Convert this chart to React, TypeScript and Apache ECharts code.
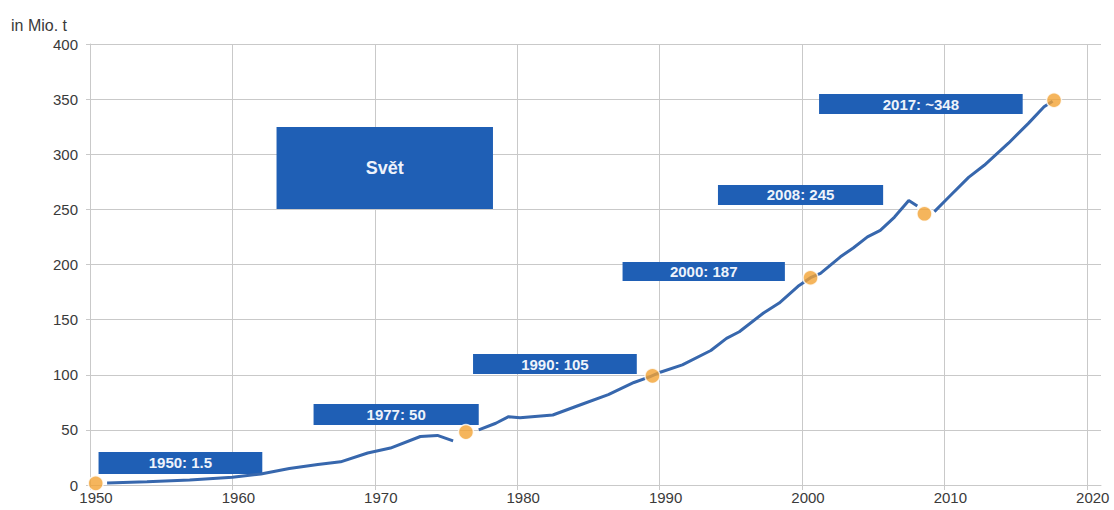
import React, { useEffect, useRef } from "react";
import * as echarts from "echarts";

const yearTicks = [1950, 1960, 1970, 1980, 1990, 2000, 2010, 2020];
const valueTicks = [0, 50, 100, 150, 200, 250, 300, 350, 400];

// world production, in Mio. t; "-" marks a break in the line
const productionLine: [number, number | string][] = [
  [1951.2, 1.8], [1954, 3], [1957, 4.5], [1960, 7], [1962, 10], [1964, 15],
  [1966, 18.5], [1967.6, 21], [1969.5, 29], [1971.1, 33.5], [1973.2, 44],
  [1974.4, 45], [1975.5, 40], [1976.4, "-"], [1977.3, 50], [1978.5, 56],
  [1979.4, 62], [1980.2, 61], [1982.5, 63.5], [1984.5, 73], [1986.4, 82],
  [1988.2, 93], [1989.3, 98], [1990.1, 102.5], [1991.6, 109], [1993.6, 122],
  [1994.7, 133], [1995.6, 139], [1997.3, 156], [1998.4, 165], [1999.8, 181],
  [2000.6, 188], [2001.3, 192], [2002.7, 207], [2003.6, 215], [2004.6, 225],
  [2005.5, 231], [2006.5, 243], [2007.5, 258], [2008.1, 253], [2008.7, "-"],
  [2009.3, 248], [2010.3, 261], [2011.7, 279], [2012.8, 290], [2014.5, 310],
  [2015.9, 328], [2017, 343], [2017.6, 348],
];

const milestonePoints: [number, number][] = [
  [1950.4, 1.5], [1976.4, 48], [1989.5, 99], [2000.6, 188], [2008.6, 246], [2017.7, 349],
];

const milestoneLabels = ["1950: 1.5", "1977: 50", "1990: 105", "2000: 187", "2008: 245", "2017: ~348"];
// box extents in data units: [x1, y1, x2, y2]
const milestoneBoxes: [number, number, number, number][] = [
  [1950.6, 30, 1962.1, 10],
  [1965.7, 73.5, 1977.3, 54.4],
  [1976.9, 118.8, 1988.4, 100.7],
  [1987.4, 202.3, 1998.8, 185],
  [1994.1, 272.1, 2005.7, 254],
  [2001.2, 354.6, 2015.5, 336.5],
];
const titleBoxLabel = "Svět";
const titleBox: [number, number, number, number] = [1963.1, 324.7, 1978.3, 250.3];

const unitLabel = "in Mio. t";

const GRID = "#c9c9c9";
const BOX = "#1f5fb5";
const FONT = "Liberation Sans, Arial, sans-serif";

export default function App() {
  const ref = useRef<HTMLDivElement>(null);
  useEffect(() => {
    document.body.style.margin = "0";
    if (!ref.current) return;
    const chart = echarts.init(ref.current, null, { renderer: "svg" });
    chart.setOption({
      animation: false,
      backgroundColor: "#ffffff",
      title: {
        text: unitLabel,
        left: 11,
        top: 16,
        padding: 0,
        textStyle: { fontSize: 16, lineHeight: 18, fontWeight: "normal", color: "#3a3a3a", fontFamily: FONT },
      },
      grid: { left: 90, right: 13, top: 44, bottom: 25 },
      xAxis: {
        type: "value",
        min: 1950,
        max: 2021,
        interval: 10,
        axisLine: { show: true, lineStyle: { color: GRID, width: 1 } },
        axisTick: { show: true, length: 5, lineStyle: { color: GRID }, customValues: yearTicks },
        axisLabel: {
          customValues: yearTicks,
          color: "#3a3a3a",
          fontSize: 15,
          margin: 5,
          padding: [0, 0, 0, 12],
          fontFamily: FONT,
          formatter: (v: number) => String(v),
        },
        splitLine: { show: true, lineStyle: { color: GRID, width: 1 } },
      },
      yAxis: {
        type: "value",
        min: 0,
        max: 400,
        interval: 50,
        axisLine: { show: true, lineStyle: { color: GRID, width: 1 } },
        axisTick: { show: true, length: 4, lineStyle: { color: GRID } },
        axisLabel: {
          color: "#3a3a3a",
          fontSize: 15,
          margin: 12,
          fontFamily: FONT,
          customValues: valueTicks,
        },
        splitLine: { show: true, lineStyle: { color: GRID, width: 1 } },
      },
      series: [
        {
          type: "line",
          data: productionLine,
          showSymbol: false,
          symbol: "none",
          connectNulls: false,
          lineStyle: { color: "#3767ad", width: 3 },
          z: 3,
          markArea: {
            silent: true,
            itemStyle: { color: BOX, opacity: 1 },
            label: {
              show: true,
              position: "inside",
              color: "#eef3fb",
              fontWeight: "bold",
              fontSize: 15,
              fontFamily: FONT,
            },
            data: [
              ...milestoneBoxes.map((b, i) => [
                { name: milestoneLabels[i], coord: [b[0], b[1]] },
                { coord: [b[2], b[3]] },
              ]),
              [
                { name: titleBoxLabel, coord: [titleBox[0], titleBox[1]], label: { fontSize: 18 } },
                { coord: [titleBox[2], titleBox[3]] },
              ],
            ],
          },
        },
        {
          type: "scatter",
          data: milestonePoints,
          symbolSize: 15,
          itemStyle: { color: "#f2a233", borderColor: "#ffffff", borderWidth: 1.5 },
          z: 4,
        },
      ],
    });
    return () => chart.dispose();
  }, []);
  return <div ref={ref} style={{ width: 1114, height: 510 }} />;
}
